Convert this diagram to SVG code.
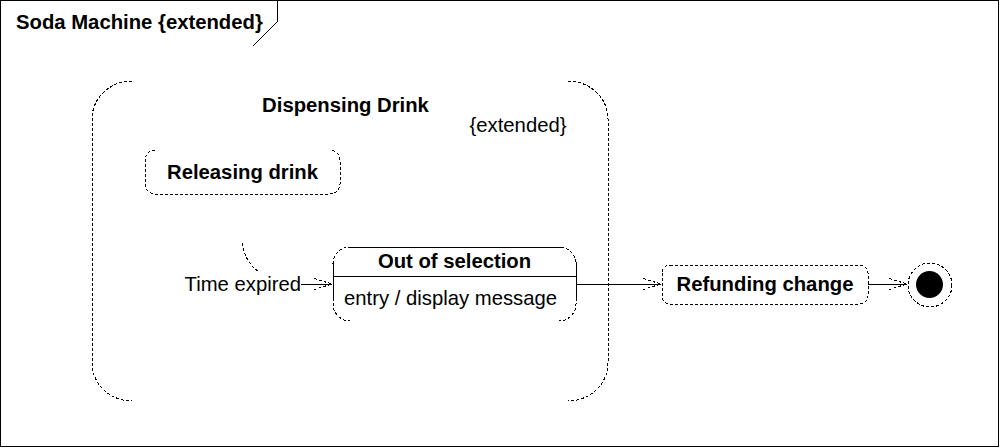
<svg xmlns="http://www.w3.org/2000/svg" width="1000" height="448" viewBox="0 0 1000 448">
<style>
.frame{fill:none;stroke:#000;stroke-width:1;shape-rendering:crispEdges}
.dash{fill:none;stroke:#000;stroke-width:1;stroke-dasharray:3,2;shape-rendering:crispEdges}
.solid{fill:none;stroke:#000;stroke-width:1;shape-rendering:crispEdges}
.b{font-family:"Liberation Sans",Arial,sans-serif;font-weight:bold;font-size:20.3px;fill:#000}
.r{font-family:"Liberation Sans",Arial,sans-serif;font-size:20.3px;fill:#000}
</style>
<defs>
<marker id="open" viewBox="0 0 18 12" refX="18" refY="6" markerWidth="18" markerHeight="12" markerUnits="userSpaceOnUse" orient="auto">
<path d="M0,0.5 L18,6 L0,11.5" fill="none" stroke="#000" stroke-width="1" stroke-dasharray="3,2" shape-rendering="crispEdges"/>
</marker>
</defs>
<rect id="bg" x="0" y="0" width="1000" height="448" fill="#fff"/>
<g id="frame">
<rect class="frame" x="0.5" y="0.5" width="998" height="446"/>
<path class="solid" d="M277,0.5 V22 L253,46"/>
<text class="b" x="16" y="29">Soda Machine {extended}</text>
</g>
<g id="dispensing-drink">
<path class="dash" d="M132,81 A40,38 0 0 0 92,119 V363 A40,38 0 0 0 132,401"/>
<path class="dash" d="M568,81 A40,38 0 0 1 608,119 V363 A40,38 0 0 1 568,401"/>
<text class="b" x="345.5" y="112" text-anchor="middle">Dispensing Drink</text>
<text class="r" x="518" y="132" text-anchor="middle">{extended}</text>
</g>
<g id="releasing-drink">
<path class="dash" d="M155,150 A10,10 0 0 0 145,160 V184 A10,10 0 0 0 155,194 H330 A10,10 0 0 0 340,184 V160 A10,10 0 0 0 330,150"/>
<text class="b" x="242.5" y="179" text-anchor="middle">Releasing drink</text>
</g>
<g id="out-of-selection">
<path class="solid" d="M348,247 H561"/>
<path class="dash" d="M333,264 A17,17 0 0 1 348,247"/>
<path class="dash" d="M561,247 A17,17 0 0 1 576,264"/>
<path class="solid" d="M333,262 V298"/>
<path class="solid" d="M576,262 V298"/>
<path class="solid" d="M333,276 H576"/>
<path class="dash" d="M333,298 V304 A17,17 0 0 0 350,321"/>
<path class="dash" d="M576,298 V304 A17,17 0 0 1 559,321"/>
<text class="b" x="454.5" y="268" text-anchor="middle">Out of selection</text>
<text class="r" x="344" y="305">entry / display message</text>
</g>
<g id="refunding-change">
<rect class="dash" x="662" y="265" width="206" height="39" rx="8" ry="8"/>
<text class="b" x="765" y="291" text-anchor="middle">Refunding change</text>
</g>
<g id="final">
<circle class="dash" cx="930" cy="285" r="22"/>
<circle cx="929.5" cy="284.5" r="13.5" fill="#000"/>
</g>
<g id="connectors">
<path class="dash" d="M242,243 Q245,262 258,271"/>
<text class="r" x="301" y="291" text-anchor="end">Time expired</text>
<path class="solid" d="M301,284 H332" marker-end="url(#open)"/>
<path class="solid" d="M576,284 H661" marker-end="url(#open)"/>
<path class="solid" d="M868,284 H907" marker-end="url(#open)"/>
</g>
</svg>
